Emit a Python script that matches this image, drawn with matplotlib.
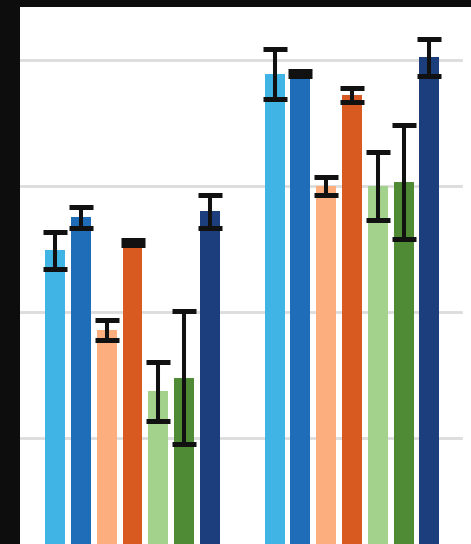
import numpy as np
import matplotlib
matplotlib.use('Agg')
import matplotlib.pyplot as plt

# two groups, seven series each
groups = ['A', 'B']
series_colors = ['#3fb4e5', '#1f6cb8', '#fcae7e', '#d85a20',
                 '#a2d28b', '#4f8a35', '#1c3e7c']
values = [
    [2.49, 2.75, 1.86, 2.55, 1.37, 1.48, 2.80],
    [3.89, 3.89, 3.00, 3.72, 3.00, 3.03, 4.02],
]
errors = [
    [0.145, 0.08, 0.08, 0.02, 0.235, 0.53, 0.13],
    [0.20, 0.02, 0.07, 0.055, 0.27, 0.45, 0.15],
]
gridlines = [1, 2, 3, 4]

fig = plt.figure(figsize=(4.71, 5.44), dpi=100, facecolor='#0d0d0d')
ax = fig.add_axes([20 / 471, 0, 451 / 471, 537 / 544])
ax.set_facecolor('white')

step = 0.1175
width = 0.091
x = np.arange(len(groups))
vals = np.array(values)
errs = np.array(errors)
for i, col in enumerate(series_colors):
    pos = x + (i - 3) * step
    ax.bar(pos, vals[:, i], width, color=col, zorder=2)
    ax.errorbar(pos, vals[:, i], yerr=errs[:, i], fmt='none',
                ecolor='#111111', elinewidth=2.9, capsize=8.3,
                capthick=3.6, zorder=3)

for g in gridlines:
    ax.axhline(g, xmin=0, xmax=441 / 451, color='#dcdcdc', lw=2, zorder=1)

ax.set_xlim(-0.5125, 1.542)
ax.set_ylim(0.159, 4.42)
for s in ax.spines.values():
    s.set_visible(False)
ax.set_xticks([])
ax.set_yticks([])

fig.savefig('out.png', dpi=100, facecolor=fig.get_facecolor())
